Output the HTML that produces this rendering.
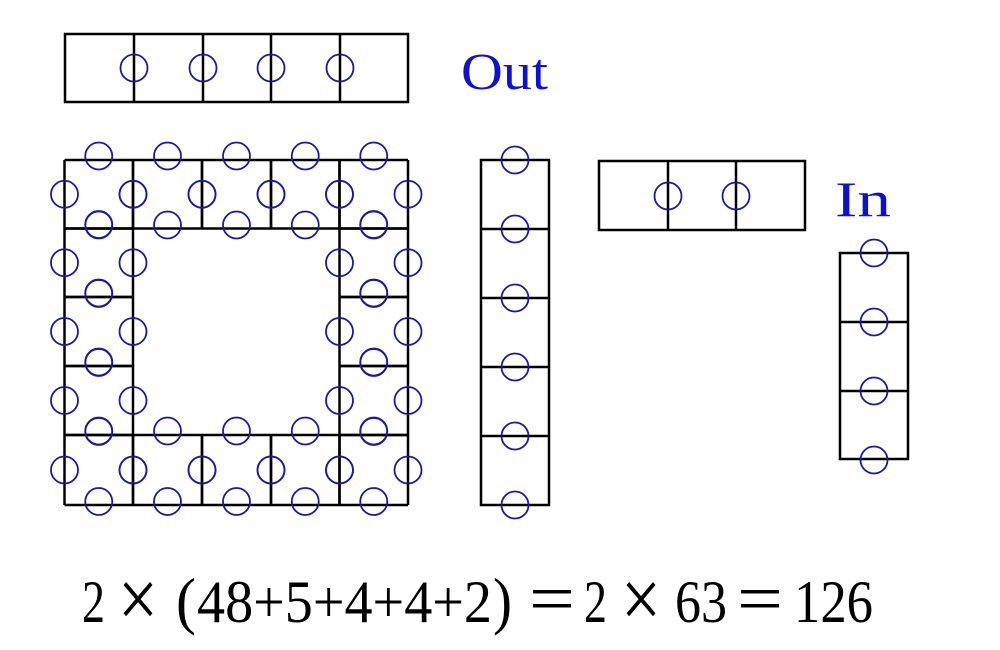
<!DOCTYPE html>
<html><head><meta charset="utf-8"><style>html,body{margin:0;padding:0;background:#fff}svg{display:block}</style></head>
<body>
<svg id="s" width="1000" height="650" viewBox="0 0 1000 650" xmlns="http://www.w3.org/2000/svg">
<g id="lines" stroke="#000" stroke-width="2.5" fill="none">
<rect x="65" y="34" width="343" height="68"/>
<line x1="134" y1="34" x2="134" y2="102"/><line x1="203" y1="34" x2="203" y2="102"/><line x1="271" y1="34" x2="271" y2="102"/><line x1="340" y1="34" x2="340" y2="102"/>
<rect x="481" y="160" width="68" height="345"/>
<line x1="481" y1="229" x2="549" y2="229"/><line x1="481" y1="298" x2="549" y2="298"/><line x1="481" y1="367" x2="549" y2="367"/><line x1="481" y1="436" x2="549" y2="436"/>
<rect x="599" y="161" width="206" height="69"/>
<line x1="668" y1="161" x2="668" y2="230"/><line x1="736" y1="161" x2="736" y2="230"/>
<rect x="840" y="253" width="68" height="206"/>
<line x1="840" y1="322" x2="908" y2="322"/><line x1="840" y1="391" x2="908" y2="391"/>
</g>
<g id="circ" stroke="#1a1aa0" stroke-width="1.8" fill="none">
<circle cx="134" cy="68" r="13.5"/><circle cx="203" cy="68" r="13.5"/><circle cx="271" cy="68" r="13.5"/><circle cx="340" cy="68" r="13.5"/>
<circle cx="668" cy="196" r="13.5"/><circle cx="736" cy="196" r="13.5"/>
<circle cx="874" cy="253" r="13.5"/><circle cx="874" cy="322" r="13.5"/><circle cx="874" cy="391" r="13.5"/><circle cx="874" cy="460" r="13.5"/>
<circle cx="515" cy="160" r="13.5"/><circle cx="515" cy="229" r="13.5"/><circle cx="515" cy="298" r="13.5"/><circle cx="515" cy="367" r="13.5"/><circle cx="515" cy="436" r="13.5"/><circle cx="515" cy="505" r="13.5"/>
</g>
<text x="461" y="89" font-family="Liberation Serif, serif" font-size="52" fill="#1010d0" textLength="87" lengthAdjust="spacingAndGlyphs">Out</text>
<text x="835" y="216" font-family="Liberation Serif, serif" font-size="50" fill="#1010d0" textLength="56" lengthAdjust="spacingAndGlyphs">In</text>
<g font-family="Liberation Serif, serif" font-size="60" fill="#000">
<text x="82" y="622" textLength="23" lengthAdjust="spacingAndGlyphs">2</text>
<text x="118" y="627" font-size="84" textLength="40" lengthAdjust="spacingAndGlyphs">×</text>
<text x="176" y="622" font-size="64" textLength="20" lengthAdjust="spacingAndGlyphs">(</text>
<text x="197" y="622" textLength="295" lengthAdjust="spacingAndGlyphs">48+5+4+4+2</text>
<text x="493" y="622" font-size="64" textLength="19" lengthAdjust="spacingAndGlyphs">)</text>
<text x="529" y="622" font-size="70" textLength="46" lengthAdjust="spacingAndGlyphs">=</text>
<text x="584" y="622" textLength="23" lengthAdjust="spacingAndGlyphs">2</text>
<text x="621" y="627" font-size="84" textLength="40" lengthAdjust="spacingAndGlyphs">×</text>
<text x="675" y="622" textLength="52" lengthAdjust="spacingAndGlyphs">63</text>
<text x="737" y="622" font-size="70" textLength="46" lengthAdjust="spacingAndGlyphs">=</text>
<text x="794" y="622" textLength="79" lengthAdjust="spacingAndGlyphs">126</text>
</g>
<script>
(function(){
var ns="http://www.w3.org/2000/svg";
var L=document.getElementById("lines"),C=document.getElementById("circ");
var xs=[64.5,133,202,271,339.5,408],ys=[160,228.5,297,366,435,505];
function ln(a,b,c,d){var e=document.createElementNS(ns,"line");e.setAttribute("x1",a);e.setAttribute("y1",b);e.setAttribute("x2",c);e.setAttribute("y2",d);L.appendChild(e);}
function ci(x,y){var e=document.createElementNS(ns,"circle");e.setAttribute("cx",x);e.setAttribute("cy",y);e.setAttribute("r",13.5);C.appendChild(e);}
function ring(r,c){return r==0||r==4||c==0||c==4;}
for(var r=0;r<5;r++)for(var c=0;c<5;c++){if(!ring(r,c))continue;
 var x0=xs[c],x1=xs[c+1],y0=ys[r],y1=ys[r+1];
 ln(x0,y0,x1,y0);ln(x0,y1,x1,y1);ln(x0,y0,x0,y1);ln(x1,y0,x1,y1);
 var cx=(x0+x1)/2,cy=(y0+y1)/2;
 ci(x0,cy);ci(x1,cy);ci(cx,y0-4);ci(cx,y1-3.5);
}
})();
</script>
</svg>
</body></html>
